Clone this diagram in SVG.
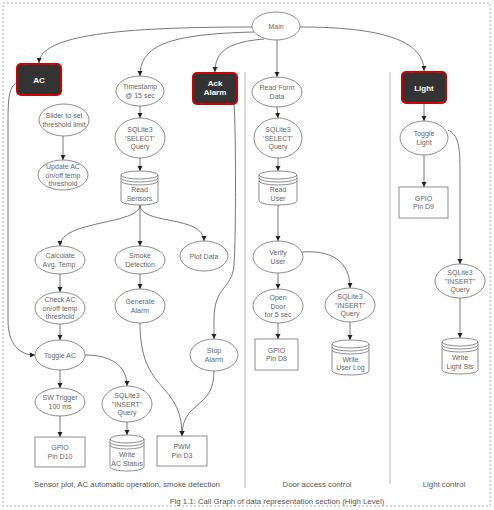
<svg xmlns="http://www.w3.org/2000/svg" width="494" height="510" viewBox="0 0 494 510">
<defs>
<marker id="arr" markerWidth="6" markerHeight="6" refX="5" refY="3" orient="auto" markerUnits="userSpaceOnUse">
<path d="M0,0.5 L5,3 L0,5.5 Z" fill="#222"/>
</marker>
<style>
.n{fill:#fff;stroke:#707070;stroke-width:0.8}
.h{fill:#333;stroke:#c00;stroke-width:2}
.t{font-family:"Liberation Sans",Arial,sans-serif;font-size:7px;fill:#666;text-anchor:middle}
.ht{font-family:"Liberation Sans",Arial,sans-serif;font-size:8px;font-weight:bold;fill:#fff;text-anchor:middle}
.c{fill:none;stroke:#555;stroke-width:0.8;marker-end:url(#arr)}
.d{fill:none;stroke:#aaa;stroke-width:0.8}
.lbl{font-family:"Liberation Sans",Arial,sans-serif;font-size:7.8px;fill:#555;text-anchor:middle}
</style>
</defs>
<rect x="3" y="3" width="487" height="503" fill="#fff" stroke="#999" stroke-width="0.8" stroke-dasharray="2,2"/>
<g id="dividers">
<line class="d" x1="245" y1="72" x2="245" y2="488"/>
<line class="d" x1="390" y1="72" x2="390" y2="484"/>
</g>
<g id="connectors">
<path class="c" d="M252,27 C120,27 40,35 39,63"/>
<path class="c" d="M254,32 C170,34 140,45 140,76"/>
<path class="c" d="M264,39 C230,42 215,50 215,72"/>
<path class="c" d="M277,40 L277,77"/>
<path class="c" d="M300,27 C380,27 424,40 424,71"/>
<path class="c" d="M17,82 C8,88 8,100 8,130 L8,320 C8,345 20,355 35,355"/>
<path class="c" d="M63,136 L63,160"/>
<path class="c" d="M140,106 L140,118"/>
<path class="c" d="M140,158 L140,171"/>
<path class="c" d="M140,205 C140,225 60,220 60,246"/>
<path class="c" d="M140,205 L140,246"/>
<path class="c" d="M140,205 C140,225 204,215 204,241"/>
<path class="c" d="M60,274 L60,292"/>
<path class="c" d="M60,324 L60,340"/>
<path class="c" d="M140,274 L140,289"/>
<path class="c" d="M60,370 L60,388"/>
<path class="c" d="M85,355 C110,355 127,365 127,386"/>
<path class="c" d="M60,416 L60,437"/>
<path class="c" d="M127,422 L127,435"/>
<path class="c" d="M140,323 C140,395 182,380 182,436"/>
<path class="c" d="M214,371 C214,410 182,400 182,436"/>
<path class="c" d="M234,104 C236,130 236,240 234,265 C232,290 214,285 214,320 L214,339"/>
<path class="c" d="M277,107 L278,118"/>
<path class="c" d="M278,158 L278,171"/>
<path class="c" d="M278,205 L278,241"/>
<path class="c" d="M278,273 L278,289"/>
<path class="c" d="M278,323 L278,339"/>
<path class="c" d="M302,252 C330,250 350,260 350,288"/>
<path class="c" d="M350,322 L350,340"/>
<path class="c" d="M424,103 L424,121"/>
<path class="c" d="M424,155 L424,187"/>
<path class="c" d="M448,130 C458,135 460,145 460,170 L460,264"/>
<path class="c" d="M460,298 L460,338"/>
</g>
<g id="main"><ellipse class="n" cx="276" cy="26" rx="24" ry="14"/><text class="t" x="276" y="28.5">Main</text></g>
<g id="ac"><rect class="h" x="17" y="64" width="44" height="31" rx="4"/><text class="ht" x="39" y="82.5">AC</text></g>
<g id="ackalarm"><rect class="h" x="193" y="73" width="44" height="31" rx="4"/><text class="ht" x="215" y="86">Ack</text><text class="ht" x="215" y="95">Alarm</text></g>
<g id="light"><rect class="h" x="402" y="72" width="44" height="31" rx="4"/><text class="ht" x="424" y="90.5">Light</text></g>
<g id="timestamp"><ellipse class="n" cx="140" cy="91" rx="24" ry="15"/><text class="t" x="140" y="89">Timestamp</text><text class="t" x="140" y="97.5">@ 15 sec</text></g>
<g id="slider"><ellipse class="n" cx="64" cy="120" rx="25" ry="16"/><text class="t" x="64" y="118">Slider to set</text><text class="t" x="64" y="126.5">threshold limit</text></g>
<g id="updateac"><ellipse class="n" cx="63" cy="175" rx="25" ry="15"/><text class="t" x="63" y="169">Update AC</text><text class="t" x="63" y="177.5">on/off temp</text><text class="t" x="63" y="186">threshold</text></g>
<g id="select1"><ellipse class="n" cx="140" cy="138" rx="25" ry="20"/><text class="t" x="140" y="132">SQLite3</text><text class="t" x="140" y="140.5">'SELECT'</text><text class="t" x="140" y="149">Query</text></g>
<g id="readsensors"><path class="n" d="M121,175 a18.5,4 0 0 1 37,0 a18.5,4 0 0 1 -37,0 M121,175 v26 a18.5,4 0 0 0 37,0 v-26 M121,178 a18.5,4 0 0 0 37,0 M121,181 a18.5,4 0 0 0 37,0"/><text class="t" x="139.5" y="192">Read</text><text class="t" x="139.5" y="200.5">Sensors</text></g>
<g id="calcavg"><ellipse class="n" cx="60" cy="260" rx="25" ry="14"/><text class="t" x="60" y="258">Calculate</text><text class="t" x="60" y="266.5">Avg. Temp.</text></g>
<g id="smoke"><ellipse class="n" cx="140" cy="260" rx="25" ry="14"/><text class="t" x="140" y="258">Smoke</text><text class="t" x="140" y="266.5">Detection</text></g>
<g id="plotdata"><ellipse class="n" cx="204" cy="256" rx="24" ry="15"/><text class="t" x="204" y="258.5">Plot Data</text></g>
<g id="checkac"><ellipse class="n" cx="60" cy="308" rx="25" ry="16"/><text class="t" x="60" y="302">Check AC</text><text class="t" x="60" y="310.5">on/off temp</text><text class="t" x="60" y="319">threshold</text></g>
<g id="genalarm"><ellipse class="n" cx="140" cy="306" rx="25" ry="17"/><text class="t" x="140" y="304">Generate</text><text class="t" x="140" y="312.5">Alarm</text></g>
<g id="toggleac"><ellipse class="n" cx="60" cy="355" rx="25" ry="15"/><text class="t" x="60" y="357.5">Toggle AC</text></g>
<g id="stopalarm"><ellipse class="n" cx="214" cy="355" rx="24" ry="16"/><text class="t" x="214" y="353">Stop</text><text class="t" x="214" y="361.5">Alarm</text></g>
<g id="swtrigger"><ellipse class="n" cx="60" cy="402" rx="25" ry="14"/><text class="t" x="60" y="400">SW Trigger</text><text class="t" x="60" y="408.5">100 ms</text></g>
<g id="insert1"><ellipse class="n" cx="127" cy="404" rx="25" ry="18"/><text class="t" x="127" y="398">SQLite3</text><text class="t" x="127" y="406.5">"INSERT"</text><text class="t" x="127" y="415">Query</text></g>
<g id="gpiod10"><rect class="n" x="35" y="437" width="50" height="30"/><text class="t" x="60" y="450">GPIO</text><text class="t" x="60" y="458.5">Pin D10</text></g>
<g id="writeac"><path class="n" d="M110,439 a17,4 0 0 1 34,0 a17,4 0 0 1 -34,0 M110,439 v28 a17,4 0 0 0 34,0 v-28 M110,442 a17,4 0 0 0 34,0 M110,445 a17,4 0 0 0 34,0"/><text class="t" x="127" y="457">Write</text><text class="t" x="127" y="465.5">AC Status</text></g>
<g id="pwm"><rect class="n" x="157" y="436" width="50" height="30"/><text class="t" x="182" y="449">PWM</text><text class="t" x="182" y="457.5">Pin D3</text></g>
<g id="readform"><ellipse class="n" cx="277" cy="92" rx="25" ry="15"/><text class="t" x="277" y="90">Read Form</text><text class="t" x="277" y="98.5">Data</text></g>
<g id="select2"><ellipse class="n" cx="278" cy="138" rx="24" ry="20"/><text class="t" x="278" y="132">SQLite3</text><text class="t" x="278" y="140.5">'SELECT'</text><text class="t" x="278" y="149">Query</text></g>
<g id="readuser"><path class="n" d="M259,175 a19,4 0 0 1 38,0 a19,4 0 0 1 -38,0 M259,175 v26 a19,4 0 0 0 38,0 v-26 M259,178 a19,4 0 0 0 38,0 M259,181 a19,4 0 0 0 38,0"/><text class="t" x="278" y="192">Read</text><text class="t" x="278" y="200.5">User</text></g>
<g id="verifyuser"><ellipse class="n" cx="278" cy="257" rx="25" ry="16"/><text class="t" x="278" y="255">Verify</text><text class="t" x="278" y="263.5">User</text></g>
<g id="opendoor"><ellipse class="n" cx="278" cy="306" rx="25" ry="17"/><text class="t" x="278" y="300">Open</text><text class="t" x="278" y="308.5">Door</text><text class="t" x="278" y="317">for 5 sec</text></g>
<g id="gpiod8"><rect class="n" x="255" y="339" width="43" height="31"/><text class="t" x="276.5" y="352.5">GPIO</text><text class="t" x="276.5" y="361">Pin D8</text></g>
<g id="insert2"><ellipse class="n" cx="350" cy="305" rx="25" ry="17"/><text class="t" x="350" y="299">SQLite3</text><text class="t" x="350" y="307.5">"INSERT"</text><text class="t" x="350" y="316">Query</text></g>
<g id="writeuserlog"><path class="n" d="M332,344 a18.5,4 0 0 1 37,0 a18.5,4 0 0 1 -37,0 M332,344 v27 a18.5,4 0 0 0 37,0 v-27 M332,347 a18.5,4 0 0 0 37,0 M332,350 a18.5,4 0 0 0 37,0"/><text class="t" x="350.5" y="361.5">Write</text><text class="t" x="350.5" y="370">User Log</text></g>
<g id="togglelight"><ellipse class="n" cx="424" cy="138" rx="24" ry="17"/><text class="t" x="424" y="136">Toggle</text><text class="t" x="424" y="144.5">Light</text></g>
<g id="gpiod9"><rect class="n" x="399" y="187" width="49" height="31"/><text class="t" x="423.5" y="200.5">GPIO</text><text class="t" x="423.5" y="209">Pin D9</text></g>
<g id="insert3"><ellipse class="n" cx="460" cy="281" rx="25" ry="17"/><text class="t" x="460" y="275">SQLite3</text><text class="t" x="460" y="283.5">"INSERT"</text><text class="t" x="460" y="292">Query</text></g>
<g id="writelight"><path class="n" d="M442,342 a18,4 0 0 1 36,0 a18,4 0 0 1 -36,0 M442,342 v28 a18,4 0 0 0 36,0 v-28 M442,345 a18,4 0 0 0 36,0 M442,348 a18,4 0 0 0 36,0"/><text class="t" x="460" y="360">Write</text><text class="t" x="460" y="368.5">Light Sts</text></g>
<g id="labels">
<text class="lbl" x="127" y="486.5">Sensor plot, AC automatic operation, smoke detection</text>
<text class="lbl" x="317" y="486.5">Door access control</text>
<text class="lbl" x="444" y="486.5">Light control</text>
<text class="lbl" x="277" y="503.5">Fig 1.1: Call Graph of data representation section (High Level)</text>
</g>
</svg>
